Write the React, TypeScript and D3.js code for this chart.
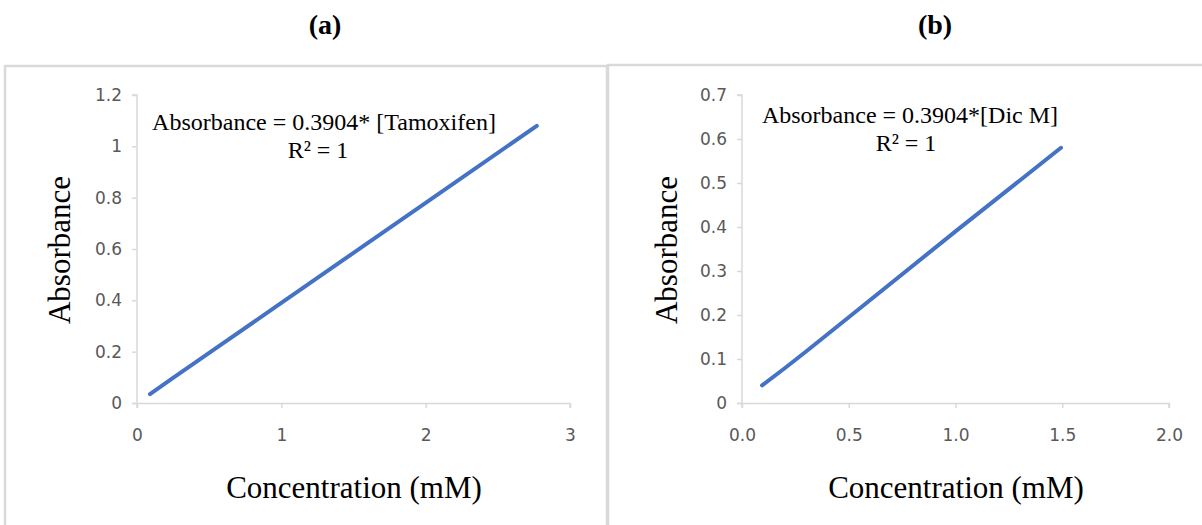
import * as d3 from "d3";
import React, {useEffect, useRef} from "react";

// panel (a) - Tamoxifen
const concA = [0.09, 0.25, 0.5, 1.0, 1.5, 2.0, 2.77];
const absA = [0.035, 0.098, 0.195, 0.39, 0.585, 0.78, 1.08];
const yTicksA = [0, 0.2, 0.4, 0.6, 0.8, 1, 1.2];
const xTicksA = [0, 1, 2, 3];

// panel (b) - Dic M
const concB = [0.094, 0.2, 0.3, 0.5, 1.0, 1.494];
const absB = [0.04, 0.079, 0.117, 0.195, 0.39, 0.58];
const yTicksB = [0, 0.1, 0.2, 0.3, 0.4, 0.5, 0.6, 0.7];
const xTicksB = [0, 0.5, 1.0, 1.5, 2.0];

const panels = [
    {
        title: "(a)", titleX: 325,
        box: [5, 66, 602, 470],
        x: [137, 570], xMax: 3, y: [403, 95], yMax: 1.2,
        conc: concA, abs: absA, xTicks: xTicksA, yTicks: yTicksA,
        xFmt: d3.format("d"), yFmt: (d) => String(d),
        eq: "Absorbance = 0.3904* [Tamoxifen]", eqX: 324, eqY: 130, r2X: 318, r2Y: 158,
        yLabelX: 70, xLabelX: 354,
    },
    {
        title: "(b)", titleX: 935,
        box: [608, 65, 600, 470],
        x: [742, 1169], xMax: 2, y: [403, 95], yMax: 0.7,
        conc: concB, abs: absB, xTicks: xTicksB, yTicks: yTicksB,
        xFmt: d3.format(".1f"), yFmt: (d) => String(d),
        eq: "Absorbance = 0.3904*[Dic M]", eqX: 910, eqY: 123, r2X: 906, r2Y: 151,
        yLabelX: 677, xLabelX: 956,
    },
];

const App = () => {
    const svgRef = useRef(null);

    useEffect(() => {
        const svg = d3.select(svgRef.current);
        svg.selectAll("*").remove();

        panels.forEach((p) => {
            const g = svg.append("g");

            // panel border
            g.append("rect")
                .attr("x", p.box[0]).attr("y", p.box[1])
                .attr("width", p.box[2]).attr("height", p.box[3])
                .attr("fill", "none").attr("stroke", "#d9d9d9").attr("stroke-width", 2.5);

            g.append("text")
                .attr("x", p.titleX).attr("y", 34)
                .attr("text-anchor", "middle")
                .attr("font-family", "Liberation Serif").attr("font-weight", "bold")
                .attr("font-size", 28).attr("fill", "#000")
                .text(p.title);

            const xScale = d3.scaleLinear().domain([0, p.xMax]).range(p.x);
            const yScale = d3.scaleLinear().domain([0, p.yMax]).range(p.y);

            // x axis
            const xAxis = g.append("g")
                .attr("transform", `translate(0,${p.y[0]})`)
                .call(d3.axisBottom(xScale).tickValues(p.xTicks).tickFormat(p.xFmt).tickSize(5).tickPadding(21));
            // y axis
            const yAxis = g.append("g")
                .attr("transform", `translate(${p.x[0]},0)`)
                .call(d3.axisLeft(yScale).tickValues(p.yTicks).tickFormat(p.yFmt).tickSize(5).tickPadding(10));

            [xAxis, yAxis].forEach((ax) => {
                ax.select(".domain").attr("stroke", "#d9d9d9").attr("stroke-width", 1.5);
                ax.selectAll(".tick line").attr("stroke", "#d9d9d9").attr("stroke-width", 1.5);
                ax.selectAll(".tick text")
                    .attr("font-family", "DejaVu Sans").attr("font-size", 17).attr("fill", "#595959");
            });
            xAxis.select(".domain").attr("d", `M${p.x[0] - 5},0.5H${p.x[1]}V5`);
            yAxis.select(".domain").attr("d", `M-5,${p.y[1]}H0V${p.y[0] + 5}`);

            const line = d3.line()
                .x((d) => xScale(d[0]))
                .y((d) => yScale(d[1]));

            g.append("path")
                .datum(d3.zip(p.conc, p.abs))
                .attr("fill", "none")
                .attr("stroke", "#4472c4")
                .attr("stroke-width", 4)
                .attr("stroke-linecap", "round")
                .attr("d", line);

            // axis titles
            g.append("text")
                .attr("transform", `translate(${p.yLabelX},250) rotate(-90)`)
                .attr("text-anchor", "middle")
                .attr("font-family", "Liberation Serif").attr("font-size", 31).attr("fill", "#000")
                .text("Absorbance");
            g.append("text")
                .attr("x", p.xLabelX).attr("y", 498)
                .attr("text-anchor", "middle")
                .attr("font-family", "Liberation Serif").attr("font-size", 31).attr("fill", "#000")
                .text("Concentration (mM)");

            // regression equation
            g.append("text")
                .attr("x", p.eqX).attr("y", p.eqY)
                .attr("text-anchor", "middle")
                .attr("font-family", "Liberation Serif").attr("font-size", 24).attr("fill", "#000")
                .text(p.eq);
            g.append("text")
                .attr("x", p.r2X).attr("y", p.r2Y)
                .attr("text-anchor", "middle")
                .attr("font-family", "Liberation Serif").attr("font-size", 24).attr("fill", "#000")
                .text("R² = 1");
        });
    }, []);

    return (
        <svg ref={svgRef} width={1202} height={525}
             style={{position: "absolute", left: 0, top: 0, background: "#fff"}}/>
    );
};

export default App;
